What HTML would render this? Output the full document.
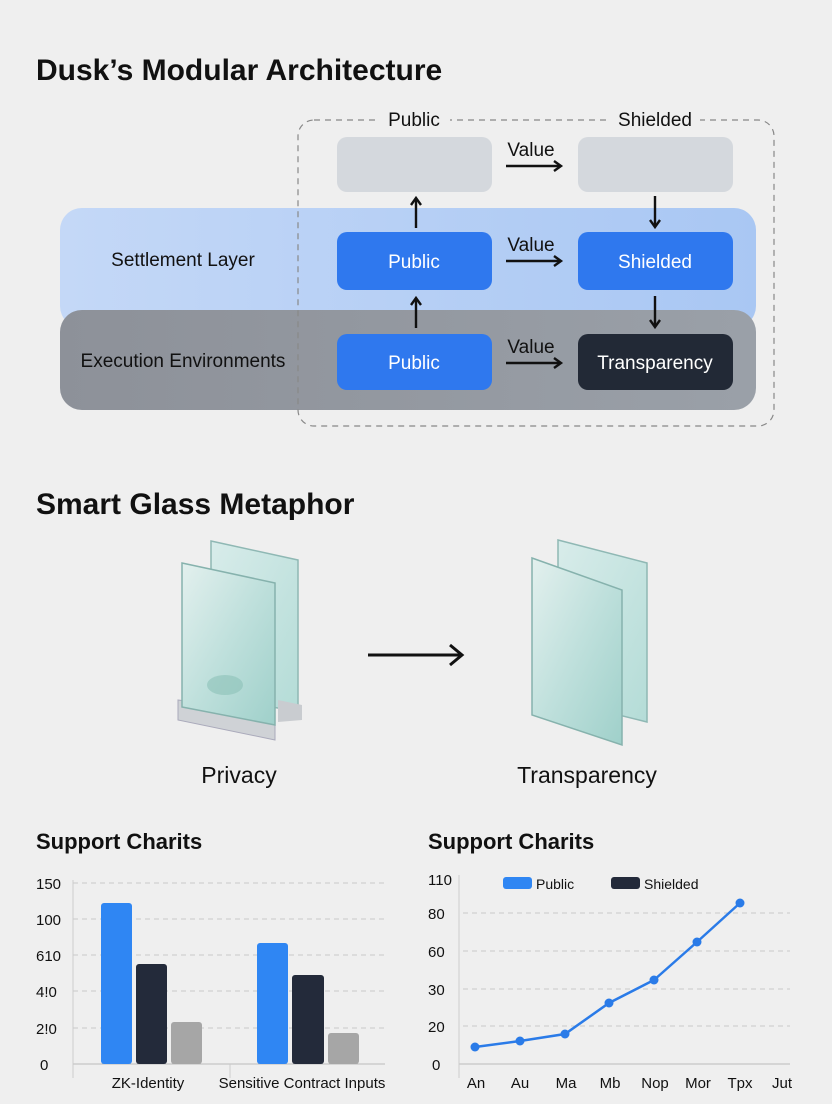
<!DOCTYPE html>
<html><head><meta charset="utf-8"><style>
html,body{margin:0;padding:0;background:#efefef;}
svg{display:block;}
text{font-family:"Liberation Sans",sans-serif;}
</style></head><body>
<svg width="832" height="1104" viewBox="0 0 832 1104" xmlns="http://www.w3.org/2000/svg">
<defs>
<linearGradient id="set" x1="0" y1="0" x2="1" y2="0"><stop offset="0" stop-color="#c4d8f7"/><stop offset="1" stop-color="#a9c7f3"/></linearGradient>
<linearGradient id="exe" x1="0" y1="0" x2="1" y2="0"><stop offset="0" stop-color="#8d9199"/><stop offset="1" stop-color="#9aa0a8"/></linearGradient>
<linearGradient id="gl" x1="0" y1="0" x2="1" y2="1"><stop offset="0" stop-color="#e3f0ee"/><stop offset="0.5" stop-color="#bfe0dc"/><stop offset="1" stop-color="#9fd0ca"/></linearGradient>
<linearGradient id="gl2" x1="0" y1="0" x2="1" y2="1"><stop offset="0" stop-color="#d8ecea"/><stop offset="1" stop-color="#b4dcd7"/></linearGradient>
<marker id="ah" markerWidth="12" markerHeight="12" refX="8" refY="6" orient="auto" markerUnits="userSpaceOnUse"><path d="M1,1 L8,6 L1,11" fill="none" stroke="#111" stroke-width="2.4"/></marker>
</defs>
<rect x="0" y="0" width="832" height="1104" fill="#efefef"/>
<text x="36" y="80" font-size="30" font-weight="bold" fill="#111">Dusk’s Modular Architecture</text>

<rect x="60" y="208" width="696" height="120" rx="22" fill="url(#set)"/>
<rect x="60" y="310" width="696" height="100" rx="22" fill="url(#exe)"/>
<rect x="298" y="120" width="476" height="306" rx="16" fill="none" stroke="#888" stroke-width="1.2" stroke-dasharray="6,5"/>
<rect x="380" y="112" width="70" height="16" fill="#efefef"/>
<rect x="610" y="112" width="90" height="16" fill="#efefef"/>

<text x="414" y="126" font-size="19" text-anchor="middle" fill="#111">Public</text>
<text x="655" y="126" font-size="19" text-anchor="middle" fill="#111">Shielded</text>
<text x="183" y="266" font-size="19" text-anchor="middle" fill="#111">Settlement Layer</text>
<text x="183" y="367" font-size="19" text-anchor="middle" fill="#111">Execution Environments</text>

<rect x="337" y="137" width="155" height="55" rx="10" fill="#d4d8dd"/>
<rect x="578" y="137" width="155" height="55" rx="10" fill="#d4d8dd"/>
<rect x="337" y="232" width="155" height="58" rx="10" fill="#2f78ee"/>
<rect x="578" y="232" width="155" height="58" rx="10" fill="#2f78ee"/>
<rect x="337" y="334" width="155" height="56" rx="10" fill="#2f78ee"/>
<rect x="578" y="334" width="155" height="56" rx="10" fill="#222936"/>
<text x="414" y="268" font-size="19" text-anchor="middle" fill="#fff">Public</text>
<text x="655" y="268" font-size="19" text-anchor="middle" fill="#fff">Shielded</text>
<text x="414" y="369" font-size="19" text-anchor="middle" fill="#fff">Public</text>
<text x="655" y="369" font-size="19" text-anchor="middle" fill="#fff">Transparency</text>

<g stroke="#111" stroke-width="2.4" fill="none" marker-end="url(#ah)">
<line x1="506" y1="166" x2="561" y2="166"/>
<line x1="506" y1="261" x2="561" y2="261"/>
<line x1="506" y1="363" x2="561" y2="363"/>
<line x1="416" y1="228" x2="416" y2="198"/>
<line x1="655" y1="196" x2="655" y2="227"/>
<line x1="416" y1="328" x2="416" y2="298"/>
<line x1="655" y1="296" x2="655" y2="327"/>
</g>
<text x="531" y="156" font-size="19" text-anchor="middle" fill="#111">Value</text>
<text x="531" y="251" font-size="19" text-anchor="middle" fill="#111">Value</text>
<text x="531" y="353" font-size="19" text-anchor="middle" fill="#111">Value</text>

<text x="36" y="514" font-size="30" font-weight="bold" fill="#111">Smart Glass Metaphor</text>

<polygon points="211,541 298,560 298,712 211,695" fill="url(#gl2)" stroke="#8fb8b4" stroke-width="1.5"/>
<polygon points="278,700 302,705 302,720 278,722" fill="#c9ccd0"/>
<polygon points="178,700 275,712 275,740 178,720" fill="#cfd2d6" stroke="#aab" stroke-width="1"/>
<polygon points="182,563 275,583 275,725 182,707" fill="url(#gl)" stroke="#86b2ad" stroke-width="1.5"/>
<ellipse cx="225" cy="685" rx="18" ry="10" fill="#8cc1b8" opacity="0.6"/>
<line x1="368" y1="655" x2="460" y2="655" stroke="#111" stroke-width="3"/>
<path d="M450,645 L462,655 L450,665" fill="none" stroke="#111" stroke-width="3"/>
<polygon points="558,540 647,563 647,722 558,700" fill="url(#gl2)" stroke="#8fb8b4" stroke-width="1.5"/>
<polygon points="532,558 622,590 622,745 532,715" fill="url(#gl)" stroke="#86b2ad" stroke-width="1.5"/>

<text x="239" y="783" font-size="23" text-anchor="middle" fill="#111">Privacy</text>
<text x="587" y="783" font-size="23" text-anchor="middle" fill="#111">Transparency</text>

<text x="36" y="849" font-size="22" font-weight="bold" fill="#111">Support Charits</text>
<g stroke="#c8c8c8" stroke-width="1" stroke-dasharray="5,4">
<line x1="73" y1="883" x2="385" y2="883"/><line x1="73" y1="919" x2="385" y2="919"/>
<line x1="73" y1="955" x2="385" y2="955"/><line x1="73" y1="991" x2="385" y2="991"/>
<line x1="73" y1="1028" x2="385" y2="1028"/>
</g>
<line x1="73" y1="1064" x2="385" y2="1064" stroke="#bbb"/>
<line x1="73" y1="880" x2="73" y2="1078" stroke="#ccc"/>
<line x1="230" y1="1064" x2="230" y2="1078" stroke="#ccc"/>
<g font-size="15" fill="#111">
<text x="36" y="889">150</text><text x="36" y="925">100</text><text x="36" y="961">610</text>
<text x="36" y="997">4!0</text><text x="36" y="1034">2!0</text><text x="40" y="1070">0</text>
</g>
<rect x="101" y="903" width="31" height="161" rx="3" fill="#2f86f3"/>
<rect x="136" y="964" width="31" height="100" rx="3" fill="#232a3a"/>
<rect x="171" y="1022" width="31" height="42" rx="3" fill="#a6a6a6"/>
<rect x="257" y="943" width="31" height="121" rx="3" fill="#2f86f3"/>
<rect x="292" y="975" width="32" height="89" rx="3" fill="#232a3a"/>
<rect x="328" y="1033" width="31" height="31" rx="3" fill="#a6a6a6"/>
<text x="148" y="1088" font-size="15" text-anchor="middle" fill="#111">ZK-Identity</text>
<text x="302" y="1088" font-size="15" text-anchor="middle" fill="#111">Sensitive Contract Inputs</text>

<text x="428" y="849" font-size="22" font-weight="bold" fill="#111">Support Charits</text>
<g stroke="#c8c8c8" stroke-width="1" stroke-dasharray="5,4">
<line x1="463" y1="913" x2="790" y2="913"/><line x1="463" y1="951" x2="790" y2="951"/>
<line x1="463" y1="989" x2="790" y2="989"/><line x1="463" y1="1026" x2="790" y2="1026"/>
</g>
<line x1="459" y1="1064" x2="790" y2="1064" stroke="#bbb"/>
<line x1="459" y1="875" x2="459" y2="1078" stroke="#ccc"/>
<g font-size="15" fill="#111">
<text x="428" y="885">110</text><text x="428" y="919">80</text><text x="428" y="957">60</text>
<text x="428" y="995">30</text><text x="428" y="1032">20</text><text x="432" y="1070">0</text>
</g>
<rect x="503" y="877" width="29" height="12" rx="3" fill="#2f86f3"/>
<text x="536" y="889" font-size="14" fill="#111">Public</text>
<rect x="611" y="877" width="29" height="12" rx="3" fill="#232a3a"/>
<text x="644" y="889" font-size="14" fill="#111">Shielded</text>
<polyline points="475,1047 520,1041 565,1034 609,1003 654,980 697,942 740,903" fill="none" stroke="#2a7be8" stroke-width="2.5"/>
<g fill="#2a7be8">
<circle cx="475" cy="1047" r="4.5"/><circle cx="520" cy="1041" r="4.5"/><circle cx="565" cy="1034" r="4.5"/>
<circle cx="609" cy="1003" r="4.5"/><circle cx="654" cy="980" r="4.5"/><circle cx="697" cy="942" r="4.5"/><circle cx="740" cy="903" r="4.5"/>
</g>
<g font-size="15" fill="#111" text-anchor="middle">
<text x="476" y="1088">An</text><text x="520" y="1088">Au</text><text x="566" y="1088">Ma</text>
<text x="610" y="1088">Mb</text><text x="655" y="1088">Nop</text><text x="698" y="1088">Mor</text>
<text x="740" y="1088">Tpx</text><text x="782" y="1088">Jut</text>
</g>
</svg>
</body></html>
